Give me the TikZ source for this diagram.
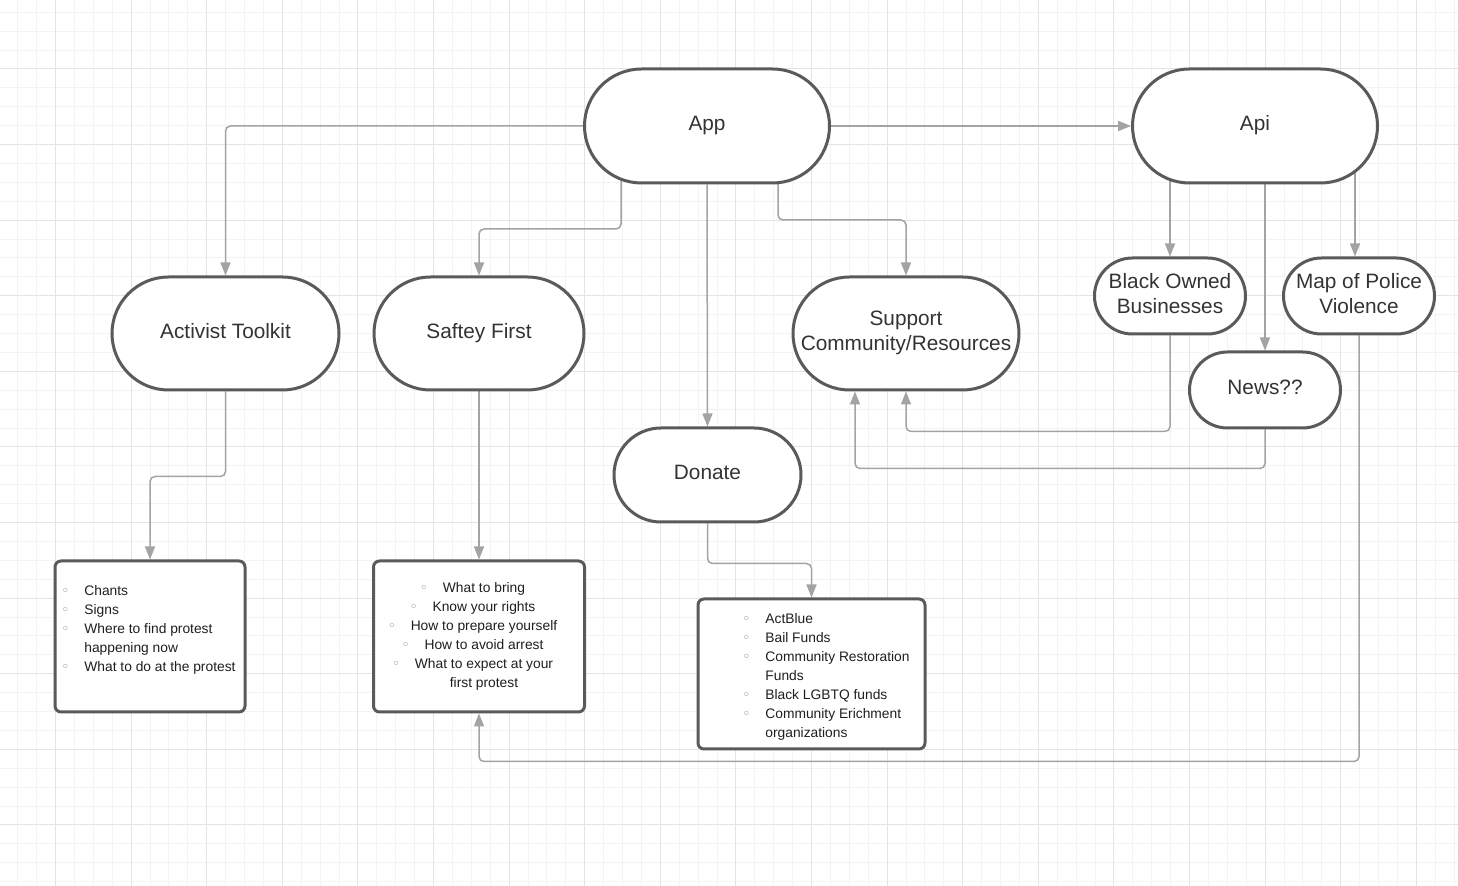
\documentclass[tikz,border=0pt]{standalone}
\usepackage{fontspec}
\setmainfont{Liberation Sans}
\newfontfamily\bulfont{DejaVu Sans}
\usetikzlibrary{arrows.meta,calc}
\definecolor{nodeline}{HTML}{5A5A5A}
\definecolor{linkgray}{HTML}{A3A3A3}
\definecolor{gridminor}{HTML}{F3F3F3}
\definecolor{gridmajor}{HTML}{E4E4E4}
\definecolor{labeltext}{HTML}{333333}
\definecolor{itemtext}{HTML}{1F1F1F}
\definecolor{bulletgray}{HTML}{8A8A8A}

\pgfdeclarelayer{grid}
\pgfdeclarelayer{links}
\pgfsetlayers{grid,links,main}

\newcommand\listsize{\fontsize{6.9}{9.5}\selectfont\setbox\strutbox\hbox{\vrule height 6.65pt depth 2.85pt width 0pt}}
\newcommand\bul{\makebox[11.5pt][l]{\textcolor{bulletgray}{\bulfont ◦}}}

\begin{document}
\begin{tikzpicture}[x=0.5pt,y=-0.5pt,
    pill/.style={draw=nodeline, line width=1.5pt, fill=white, text=labeltext, align=center, inner sep=0pt, font=\fontsize{10.4}{12.5}\selectfont, execute at end node={\rule[-3pt]{0pt}{0pt}}},
    listbox/.style={draw=nodeline, line width=1.5pt, fill=white, rounded corners=3pt},
    items/.style={inner sep=0pt, text=itemtext, font=\listsize},
    link/.style={draw=linkgray, line width=0.75pt, rounded corners=2.5pt, -{Triangle[length=6.5pt,width=5pt]}}]
    \useasboundingbox (0,0) rectangle (1458,886);

    % Background grid
    \begin{pgfonlayer}{grid}
        \fill[white] (0,0) rectangle (1458,886);
        \foreach \i in {0,...,77} {
            \draw[gridminor, line width=0.5pt] ({-1.2+18.9*\i},0) -- ++(0,886);
        }
        \foreach \i in {0,...,46} {
            \draw[gridminor, line width=0.5pt] (0,{12.3+18.9*\i}) -- ++(1458,0);
        }
        \foreach \i in {0,...,18} {
            \draw[gridmajor, line width=0.5pt] ({55.5+75.6*\i},0) -- ++(0,886);
        }
        \foreach \i in {0,...,10} {
            \draw[gridmajor, line width=0.5pt] (0,{69+75.6*\i}) -- ++(1458,0);
        }
    \end{pgfonlayer}

    % Main nodes
    \node[pill, minimum width=122.5pt, minimum height=57pt, rounded corners=28.5pt] (app) at (707,126) {App};
    \node[pill, minimum width=122.5pt, minimum height=57pt, rounded corners=28.5pt] (api) at (1255,126) {Api};
    \node[pill, minimum width=113.5pt, minimum height=56.5pt, rounded corners=28.25pt] (activist) at (225.5,333.5) {Activist Toolkit};
    \node[pill, minimum width=105pt, minimum height=56.5pt, rounded corners=28.25pt] (safety) at (479,333.5) {Saftey First};
    \node[pill, minimum width=113pt, minimum height=56.5pt, rounded corners=28.25pt] (support) at (906,333.5) {Support\\Community/Resources};
    \node[pill, minimum width=93.5pt, minimum height=47pt, rounded corners=23.5pt] (donate) at (707.5,475) {Donate};
    \node[pill, minimum width=75.5pt, minimum height=38pt, rounded corners=19pt] (bob) at (1170,296) {Black Owned\\Businesses};
    \node[pill, minimum width=75.5pt, minimum height=38pt, rounded corners=19pt] (police) at (1359,296) {Map of Police\\Violence};
    \node[pill, minimum width=75.5pt, minimum height=38pt, rounded corners=19pt] (news) at (1265,390) {News??};

    % List boxes
    \node[listbox, minimum width=95pt, minimum height=75.5pt] (toolkitbox) at (150,636.5) {};
    \node[listbox, minimum width=105.5pt, minimum height=75.5pt] (safetybox) at (479,636.5) {};
    \node[listbox, minimum width=113.5pt, minimum height=75pt] (donatebox) at (811.5,674) {};

    \node[items, anchor=base west] (toolkititems) at (61,596) {\begin{tabular}[t]{@{}l@{}}
        \bul Chants\\
        \bul Signs\\
        \bul Where to find protest\\
        \hspace*{11.5pt}happening now\\
        \bul What to do at the protest
    \end{tabular}};
    \node[items, anchor=base] (safetyitems) at (484,593) {\begin{tabular}[t]{@{}c@{}}
        \llap{\bul}What to bring\\
        \llap{\bul}Know your rights\\
        \llap{\bul}How to prepare yourself\\
        \llap{\bul}How to avoid arrest\\
        \llap{\bul}What to expect at your\\
        first protest
    \end{tabular}};
    \node[items, anchor=base west] (donateitems) at (742,624) {\begin{tabular}[t]{@{}l@{}}
        \bul ActBlue\\
        \bul Bail Funds\\
        \bul Community Restoration\\
        \hspace*{11.5pt}Funds\\
        \bul Black LGBTQ funds\\
        \bul Community Erichment\\
        \hspace*{11.5pt}organizations
    \end{tabular}};

    % Connectors
    \begin{pgfonlayer}{links}
        \draw[link] (app.west) -| (activist.north);
        \draw[link] ($(app.center)+(-86,0)$) -- ++(0,103) -| (safety.north);
        \draw[link] (app.south) -- (donate.north);
        \draw[link] ($(app.center)+(71,0)$) -- ++(0,94) -| (support.north);
        \draw[link] (app.east) -- (api.west);
        \draw[link] ($(api.center)+(-85,0)$) -- (bob.north);
        \draw[link] ($(api.center)+(10,0)$) -- (news.north);
        \draw[link] ($(api.center)+(100,0)$) -- ($(police.north)+(-4,0)$);
        \draw[link] (bob.south) -- ++(0,96) -| (support.south);
        \draw[link] (news.south) -- ++(0,39) -| ($(support.south)+(-51,0)$);
        \draw[link] (police.south) -- ++(0,426) -| (safetybox.south);
        \draw[link] (activist.south) -- ++(0,85) -| (toolkitbox.north);
        \draw[link] (safety.south) -- (safetybox.north);
        \draw[link] (donate.south) -- ++(0,40) -| (donatebox.north);
    \end{pgfonlayer}
\end{tikzpicture}
\end{document}
